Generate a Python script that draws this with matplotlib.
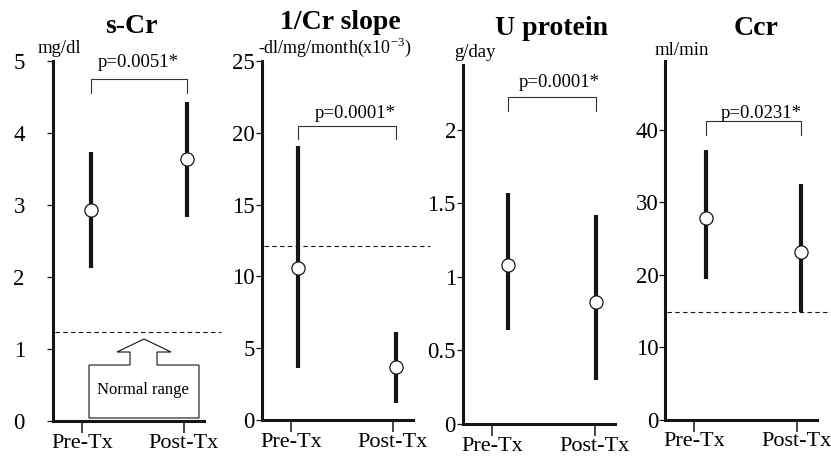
import matplotlib
matplotlib.use('Agg')
import matplotlib.pyplot as plt
from matplotlib.patches import Polygon

plt.rcParams['font.family'] = ['Liberation Serif', 'DejaVu Serif']
plt.rcParams['mathtext.fontset'] = 'custom'
plt.rcParams['mathtext.rm'] = 'Liberation Serif'

# data (mean, low end, high end of each bar)
groups = ['Pre-Tx', 'Post-Tx']
titles = ['s-Cr', '1/Cr slope', 'U protein', 'Ccr']
units = ['mg/dl', r'-dl/mg/month(x10$^{\mathrm{-3}}$)', 'g/day', 'ml/min']
p_values = ['p=0.0051*', 'p=0.0001*', 'p=0.0001*', 'p=0.0231*']

scr_mean = [2.93, 3.64]
scr_low = [2.12, 2.84]
scr_high = [3.73, 4.43]

slope_mean = [10.6, 3.7]
slope_low = [3.6, 1.2]
slope_high = [19.1, 6.1]

uprot_mean = [1.08, 0.83]
uprot_low = [0.64, 0.30]
uprot_high = [1.57, 1.42]

ccr_mean = [27.9, 23.1]
ccr_low = [19.4, 14.8]
ccr_high = [37.2, 32.6]

normal_lines = [1.24, 12.1, None, 14.8]

yticks = [[0, 1, 2, 3, 4, 5],
          [0, 5, 10, 15, 20, 25],
          [0, 0.5, 1, 1.5, 2],
          [0, 10, 20, 30, 40]]
ytick_labels = [['0', '1', '2', '3', '4', '5'],
                ['0', '5', '10', '15', '20', '25'],
                ['0', '0.5', '1', '1.5', '2'],
                ['0', '10', '20', '30', '40']]
ylims = [(0, 5), (0, 25), (0, 2.44), (0, 49.6)]

# bracket heights (top, foot) in data units
brackets = [(4.75, 4.55), (20.5, 19.6), (2.22, 2.13), (41.2, 39.3)]

means = [scr_mean, slope_mean, uprot_mean, ccr_mean]
lows = [scr_low, slope_low, uprot_low, ccr_low]
highs = [scr_high, slope_high, uprot_high, ccr_high]

# layout (pixels)
W, H = 831, 459
boxes = [(53, 38, 151, 360), (262, 39, 151, 359), (463, 35, 152, 359), (665, 39.5, 152, 359)]
bar_shift = [(0.09, 1.03), (0.07, 1.03), (0.15, 1.01), (0.11, 1.04)]
ylab_pad = [16, 0.8, 0.8, 0.5]
title_pos = [(0.52, 1.078), (0.52, 1.09), (0.58, 1.083), (0.60, 1.07)]
unit_pos = [(0.04, 1.022), (0.48, 1.022), (0.08, 1.022), (0.11, 1.015)]
p_pos = [(0.563, 0.983), (0.62, 0.842), (0.63, 0.939), (0.63, 0.84)]
unit_size = [13.5, 13, 13.5, 13.5]

ink = '#151515'
fig = plt.figure(figsize=(W / 100, H / 100), dpi=100)

for i in range(4):
    l, b, w, h = boxes[i]
    ax = fig.add_axes([l / W, b / H, w / W, h / H])
    ax.set_xlim(-0.287, 1.2)
    ax.set_ylim(*ylims[i])
    for s in ['top', 'right']:
        ax.spines[s].set_visible(False)
    for s in ['left', 'bottom']:
        ax.spines[s].set_linewidth(2.2)
        ax.spines[s].set_color(ink)

    ax.set_xticks([0, 1])
    ax.set_xticklabels(groups, fontsize=16)
    ax.tick_params(axis='x', direction='out', length=8.5, width=1.1, pad=0.8, color=ink)
    ax.set_yticks(yticks[i])
    ax.set_yticklabels(ytick_labels[i], fontsize=16.5)
    ax.tick_params(axis='y', direction='out', length=4.3, width=0.9, pad=ylab_pad[i], color=ink)

    xs = bar_shift[i]
    ax.vlines(xs, lows[i], highs[i], lw=3, color=ink, zorder=3)
    ax.plot(xs, means[i], 'o', ms=9.5, mfc='white', mec=ink, mew=0.9, zorder=4)

    top, foot = brackets[i]
    ax.plot([xs[0], xs[0], xs[1], xs[1]], [foot, top, top, foot], lw=0.8, color='#333333')

    if normal_lines[i] is not None:
        ax.axhline(normal_lines[i], xmin=0.01, xmax=1.11, clip_on=False,
                   lw=0.8, color=ink, linestyle=(0, (4, 3)))

    ax.text(*title_pos[i], titles[i], transform=ax.transAxes, ha='center', va='baseline',
            fontsize=20, fontweight='bold')
    ax.text(*unit_pos[i], units[i], transform=ax.transAxes, ha='center', va='baseline',
            fontsize=unit_size[i])
    ax.text(*p_pos[i], p_values[i], transform=ax.transAxes, ha='center', va='baseline',
            fontsize=13.5)

    if i == 0:
        # "Normal range" block arrow, in pixels relative to the axes corner
        pts = [(36, 3), (146, 3), (146, 56), (104, 56), (104, 69), (118, 69), (91, 82),
               (64, 69), (77, 69), (77, 56), (36, 56)]
        pts = [(x / w, y / h) for x, y in pts]
        ax.add_patch(Polygon(pts, closed=True, transform=ax.transAxes, fill=False,
                             lw=0.8, edgecolor=ink))
        ax.text(90 / w, 31 / h, 'Normal range', transform=ax.transAxes, ha='center',
                va='center', fontsize=12)

fig.savefig('out.png', dpi=100)
